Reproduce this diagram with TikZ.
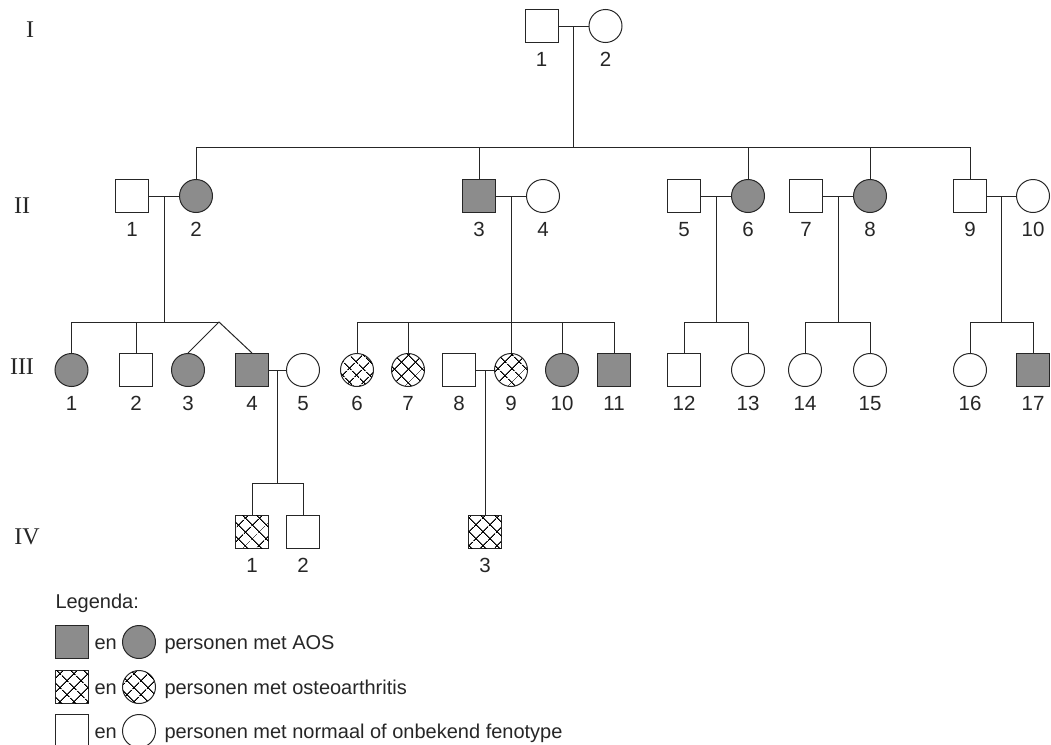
\documentclass[tikz,border=0pt]{standalone}
\usepackage{fontspec}
\setmainfont{Liberation Sans}
\newfontfamily\genfont{Liberation Serif}
\usetikzlibrary{patterns.meta,calc}
\definecolor{aosgray}{HTML}{8C8C8C}
\definecolor{pedline}{HTML}{262626}
\tikzset{
  male/.style={draw=pedline,rectangle,minimum size=33pt,inner sep=0pt},
  female/.style={draw=pedline,circle,minimum size=33pt,inner sep=0pt},
  aos/.style={fill=aosgray},
  oa/.style={pattern={Lines[angle=45,distance=10.5pt,line width=1.1pt]},
    postaction={pattern={Lines[angle=-45,distance=10.5pt,line width=1.1pt]}}},
  num/.style={font=\fontsize{20.5}{24}\selectfont,inner sep=0pt,text=pedline},
  gen/.style={font=\genfont\fontsize{24}{28}\selectfont,inner sep=0pt,text=pedline},
  leg/.style={font=\fontsize{20}{24}\selectfont,inner sep=0pt,anchor=base west,text=pedline},
}
\begin{document}
\begin{tikzpicture}[x=1pt,y=-1pt,line width=1pt,draw=pedline,label distance=8.5pt,every label/.style={num}]
\useasboundingbox (0,0) rectangle (1051,744);
\node[gen] (genI) at (30,30) {I};
\node[gen] (genII) at (22,206) {II};
\node[gen] (genIII) at (22,367) {III};
\node[gen] (genIV) at (27,537) {IV};
\coordinate (sibII) at (0,147);
\coordinate (sibIII) at (0,322);
\coordinate (sibIV) at (0,483);
% generation I
\node[male,label=below:1] (I1) at (541.5,26) {};
\node[female,label=below:2] (I2) at (605.5,26) {};
% generation II
\node[male,label=below:1] (II1) at (132,196) {};
\node[female,aos,label=below:2] (II2) at (196,196) {};
\node[male,aos,label=below:3] (II3) at (479,196) {};
\node[female,label=below:4] (II4) at (543,196) {};
\node[male,label=below:5] (II5) at (684,196) {};
\node[female,aos,label=below:6] (II6) at (748,196) {};
\node[male,label=below:7] (II7) at (806,196) {};
\node[female,aos,label=below:8] (II8) at (870,196) {};
\node[male,label=below:9] (II9) at (970,196) {};
\node[female,label=below:10] (II10) at (1033,196) {};
% generation III
\node[female,aos,label=below:1] (III1) at (71.5,370) {};
\node[male,label=below:2] (III2) at (136,370) {};
\node[female,aos,label=below:3] (III3) at (188,370) {};
\node[male,aos,label=below:4] (III4) at (252,370) {};
\node[female,label=below:5] (III5) at (303,370) {};
\node[female,oa,label=below:6] (III6) at (357,370) {};
\node[female,oa,label=below:7] (III7) at (408,370) {};
\node[male,label=below:8] (III8) at (459,370) {};
\node[female,oa,label=below:9] (III9) at (511,370) {};
\node[female,aos,label=below:10] (III10) at (562,370) {};
\node[male,aos,label=below:11] (III11) at (614,370) {};
\node[male,label=below:12] (III12) at (684,370) {};
\node[female,label=below:13] (III13) at (748,370) {};
\node[female,label=below:14] (III14) at (805,370) {};
\node[female,label=below:15] (III15) at (870,370) {};
\node[female,label=below:16] (III16) at (970,370) {};
\node[male,aos,label=below:17] (III17) at (1033,370) {};
% generation IV
\node[male,oa,label=below:1] (IV1) at (252,532) {};
\node[male,label=below:2] (IV2) at (303,532) {};
\node[male,oa,label=below:3] (IV3) at (485,532) {};
% marriages
\foreach \a/\b/\m in {I1/I2/mI,II1/II2/mA,II3/II4/mB,II5/II6/mC,II7/II8/mD,II9/II10/mE,III4/III5/mF,III8/III9/mG}{
  \draw (\a) -- (\b);
  \coordinate (\m) at ($(\a)!.5!(\b)$);
}
% descent lines
\draw (mI) -- (mI |- sibII);
\draw (II2 |- sibII) -- (II9 |- sibII);
\foreach \c in {II2,II3,II6,II8,II9} \draw (\c.north) -- (\c |- sibII);
\coordinate (twA) at (219,322);
\draw (mA) -- (mA |- sibIII);
\draw (III1.north) |- (twA);
\draw (III2.north) -- (III2 |- sibIII);
\draw (III3.north) -- (twA) -- (III4.north);
\draw (mB) -- (III9.north);
\draw (III6.north) |- (III11 |- sibIII) -- (III11.north);
\foreach \c in {III7,III10} \draw (\c.north) -- (\c |- sibIII);
\draw (mC) -- (mC |- sibIII);
\draw (III12.north) |- (III13 |- sibIII) -- (III13.north);
\draw (mD) -- (mD |- sibIII);
\draw (III14.north) |- (III15 |- sibIII) -- (III15.north);
\draw (mE) -- (mE |- sibIII);
\draw (III16.north) |- (III17 |- sibIII) -- (III17.north);
\draw (mF) -- (mF |- sibIV);
\draw (IV1.north) |- (IV2 |- sibIV) -- (IV2.north);
\draw (mG) -- (IV3.north);
% legend
\node[leg] (legTitle) at (55,608) {Legenda:};
\node[male,aos] (legAsq) at (72,642) {};
\node[leg] (legAen) at (94,649) {en};
\node[female,aos] (legAci) at (139,642) {};
\node[leg] (legAtxt) at (164,649) {personen met AOS};
\node[male,oa] (legBsq) at (72,687) {};
\node[leg] (legBen) at (94,694) {en};
\node[female,oa] (legBci) at (139,687) {};
\node[leg] (legBtxt) at (164,694) {personen met osteoarthritis};
\node[male] (legCsq) at (72,731) {};
\node[leg] (legCen) at (94,738) {en};
\node[female] (legCci) at (139,731) {};
\node[leg] (legCtxt) at (164,738) {personen met normaal of onbekend fenotype};
\end{tikzpicture}
\end{document}
